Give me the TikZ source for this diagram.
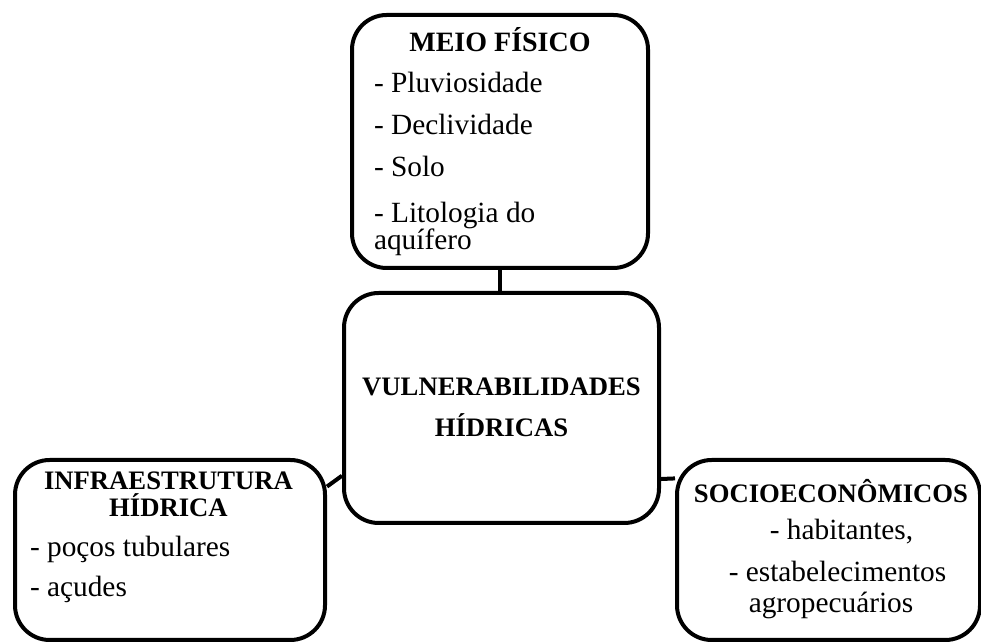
\documentclass[tikz,border=0pt]{standalone}
\usepackage{fontspec}
\setmainfont{Liberation Serif}
\begin{document}
\begin{tikzpicture}[x=0.75pt, y=0.75pt, line width=3pt,
  caixa/.style={draw, rounded corners=26pt, inner sep=0pt},
  titulo/.style={font=\fontsize{20}{24}\selectfont\bfseries, anchor=base, inner sep=0pt},
  item/.style={font=\fontsize{22}{26}\selectfont, anchor=base west, inner sep=0pt},
  itemc/.style={font=\fontsize{22}{26}\selectfont, anchor=base, inner sep=0pt}]
\useasboundingbox (0,0) rectangle (981,642);

% caixas
\node[caixa, minimum width=222pt, minimum height=189.75pt] (fis) at (500, 500.5) {};
\node[caixa, minimum width=236.25pt, minimum height=172.5pt] (vul) at (501.5, 234) {};
\node[caixa, minimum width=232.5pt, minimum height=135pt] (inf) at (170, 92) {};
\node[caixa, minimum width=227.25pt, minimum height=135pt] (soc) at (828.5, 92) {};

% meio fisico
\node[titulo, font=\fontsize{21}{24}\selectfont\bfseries] (fis-t) at (500, 590) {MEIO FÍSICO};
\node[item] (fis-1) at (372, 549) {- Pluviosidade};
\node[item] (fis-2) at (372, 507) {- Declividade};
\node[item] (fis-3) at (372, 465) {- Solo};
\node[item] (fis-4) at (372, 419) {- Litologia do};
\node[item] (fis-5) at (372, 392) {aquífero};

% centro
\node[titulo] (vul-1) at (501.5, 246) {VULNERABILIDADES};
\node[titulo] (vul-2) at (501.5, 205) {HÍDRICAS};

% infraestrutura
\node[titulo] (inf-t1) at (168.5, 152) {INFRAESTRUTURA};
\node[titulo] (inf-t2) at (168.5, 125) {HÍDRICA};
\node[item] (inf-1) at (28, 85) {- poços tubulares};
\node[item] (inf-2) at (28, 45) {- açudes};

% socioeconomicos
\node[titulo] (soc-t) at (831, 139) {SOCIOECONÔMICOS};
\node[itemc] (soc-1) at (841.5, 102) {- habitantes,};
\node[itemc] (soc-2) at (837.5, 60) {- estabelecimentos};
\node[itemc] (soc-3) at (831, 29) {agropecuários};

% ligacoes
\draw (fis.south) -- (fis.south |- vul.north);
\draw (inf.22.7) -- (vul.203.7);
\draw (vul.336.5) -- (soc.155.8);
\end{tikzpicture}
\end{document}
